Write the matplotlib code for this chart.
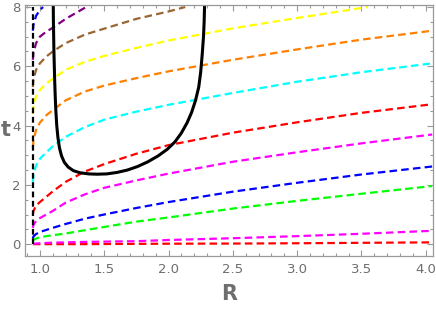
import matplotlib.pyplot as plt
from matplotlib.ticker import MultipleLocator

# asymptote where every t(R) curve starts
R_ASYM = 0.945

# common R grid for the curves that run across the whole plot
R_GRID = [0.945, 0.95, 0.97, 1.0, 1.05, 1.1, 1.2, 1.35, 1.5, 1.75, 2.0, 2.5, 3.0, 3.5, 4.05]

red_low = [0.0, 0.0, 0.0, 0.0, 0.0, 0.0, 0.0, 0.0, 0.005, 0.01, 0.015, 0.02, 0.03, 0.045, 0.06]
magenta_low = [0.0, 0.01, 0.02, 0.03, 0.04, 0.05, 0.06, 0.075, 0.085, 0.1, 0.14, 0.2, 0.27, 0.35, 0.45]
green = [0.1, 0.14, 0.19, 0.23, 0.27, 0.3, 0.36, 0.47, 0.58, 0.76, 0.9, 1.2, 1.46, 1.7, 1.96]
blue = [0.2, 0.26, 0.34, 0.41, 0.48, 0.55, 0.68, 0.86, 1.0, 1.22, 1.42, 1.77, 2.07, 2.35, 2.62]
magenta = [0.55, 0.65, 0.78, 0.88, 1.0, 1.12, 1.4, 1.68, 1.9, 2.15, 2.38, 2.78, 3.1, 3.4, 3.7]
red = [1.0, 1.12, 1.3, 1.42, 1.6, 1.78, 2.1, 2.45, 2.7, 3.05, 3.34, 3.76, 4.11, 4.43, 4.72]
cyan = [2.1, 2.35, 2.65, 2.88, 3.1, 3.3, 3.62, 3.95, 4.2, 4.47, 4.7, 5.1, 5.48, 5.8, 6.1]
orange = [3.25, 3.5, 3.85, 4.1, 4.35, 4.52, 4.85, 5.15, 5.35, 5.6, 5.83, 6.22, 6.57, 6.9, 7.2]

# curves that leave through the top of the plot (t = 8)
yellow_R = [0.945, 0.95, 0.97, 1.0, 1.05, 1.1, 1.2, 1.35, 1.5, 1.75, 2.0, 2.5, 3.0, 3.55]
yellow = [4.4, 4.65, 4.98, 5.2, 5.42, 5.58, 5.88, 6.15, 6.35, 6.62, 6.87, 7.28, 7.63, 8.0]
brown_R = [0.945, 0.95, 0.97, 1.0, 1.05, 1.1, 1.2, 1.35, 1.5, 1.75, 2.0, 2.13]
brown = [5.3, 5.55, 5.88, 6.1, 6.33, 6.5, 6.78, 7.07, 7.27, 7.6, 7.85, 8.0]
purple_R = [0.945, 0.95, 0.97, 1.0, 1.05, 1.1, 1.2, 1.3, 1.36]
purple = [6.22, 6.45, 6.78, 7.0, 7.17, 7.3, 7.6, 7.85, 8.0]
blue_top_R = [0.945, 0.95, 0.97, 1.0, 1.025]
blue_top = [7.2, 7.4, 7.7, 7.9, 8.0]

# solid black boundary curve (U shape)
black_R = [1.104, 1.105, 1.107, 1.109, 1.112, 1.115, 1.119, 1.124, 1.131, 1.14,
           1.152, 1.168, 1.19, 1.22, 1.26, 1.31, 1.38, 1.445, 1.52, 1.6,
           1.68, 1.76, 1.84, 1.92, 1.99, 2.05, 2.1, 2.145, 2.18, 2.21,
           2.235, 2.25, 2.262, 2.272, 2.277, 2.28]
black_t = [8.0, 7.5, 7.0, 6.5, 6.0, 5.5, 5.0, 4.5, 4.0, 3.6,
           3.25, 2.98, 2.76, 2.6, 2.48, 2.41, 2.37, 2.36, 2.37, 2.42,
           2.5, 2.62, 2.78, 2.98, 3.2, 3.45, 3.75, 4.1, 4.45, 4.85,
           5.3, 5.8, 6.4, 7.0, 7.5, 8.0]

GRID_CURVES = [
    (red_low, "#ff0000"),
    (magenta_low, "#ff00ff"),
    (green, "#00ff00"),
    (blue, "#0000ff"),
    (magenta, "#ff00ff"),
    (red, "#ff0000"),
    (cyan, "#00ffff"),
    (orange, "#ff8000"),
]
TOP_CURVES = [
    (yellow_R, yellow, "#ffff00"),
    (brown_R, brown, "#996633"),
    (purple_R, purple, "#800080"),
    (blue_top_R, blue_top, "#0000ff"),
]

GRAY = "#999999"
TEXT = "#6e6e6e"

fig = plt.figure(figsize=(4.36, 3.09), dpi=100)
ax = fig.add_axes([0.0573, 0.1715, 0.9357, 0.8125])

dash = (0, (3.4, 1.9))
for vals, col in GRID_CURVES:
    ax.plot(R_GRID, vals, color=col, lw=1.6, ls=dash)
for rs, vals, col in TOP_CURVES:
    ax.plot(rs, vals, color=col, lw=1.6, ls=dash)

ax.plot([R_ASYM, R_ASYM], [0, 8], color="black", lw=1.6, ls=(0, (2.6, 1.6)))
ax.plot(black_R, black_t, color="black", lw=2.2, solid_joinstyle="round")

ax.set_xlim(0.884, 4.056)
ax.set_ylim(-0.4, 8.07)

ax.xaxis.set_major_locator(MultipleLocator(0.5))
ax.xaxis.set_minor_locator(MultipleLocator(0.1))
ax.yaxis.set_major_locator(MultipleLocator(2))
ax.yaxis.set_minor_locator(MultipleLocator(0.5))
ax.xaxis.set_major_formatter(lambda v, p: f"{v:.1f}")

ax.tick_params(which="both", direction="in", top=True, right=True,
               color=GRAY, labelcolor=TEXT, labelsize=9.5, width=0.8)
ax.tick_params(which="major", length=4)
ax.tick_params(which="minor", length=2.2)
ax.tick_params(axis="x", pad=5)
ax.tick_params(axis="y", pad=3)
for sp in ax.spines.values():
    sp.set_color(GRAY)
    sp.set_linewidth(0.9)

ax.set_xlabel("R", fontsize=15, fontweight="bold", color=TEXT, labelpad=6)
ax.set_ylabel("t", fontsize=15, fontweight="bold", color=TEXT, rotation=0,
              labelpad=0, va="center")
ax.yaxis.set_label_coords(-0.047, 0.5)

fig.savefig("out.png", dpi=100)
